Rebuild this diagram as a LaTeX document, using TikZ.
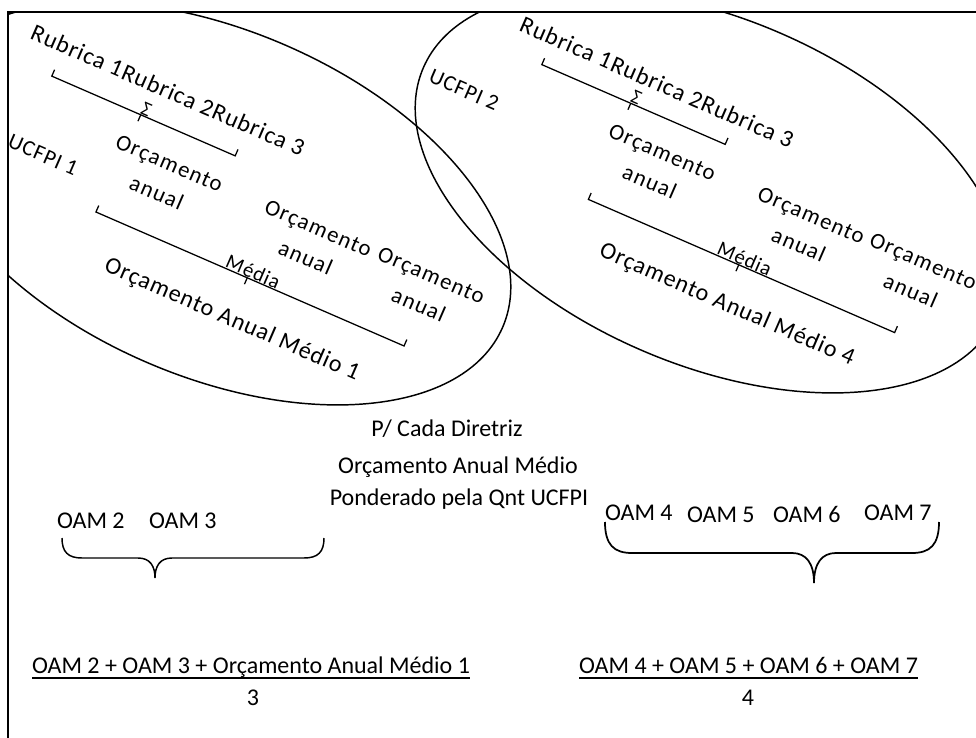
\documentclass[tikz,border=0pt]{standalone}
\usepackage{fontspec}
\setmainfont{Carlito}
\newfontfamily\spacedfont[LetterSpace=4]{Carlito}
\newfontfamily\widefont[LetterSpace=6]{Carlito}
\begin{document}
\begin{tikzpicture}[x=0.75pt,y=-0.75pt,
  every node/.style={inner sep=0pt, outer sep=0pt},
  frameline/.style={line width=1.4pt, black},
  ellipseline/.style={line width=1.1pt, black},
  bracketline/.style={line width=0.95pt, black},
  rottext/.style={font=\spacedfont\fontsize{18}{19}\selectfont, rotate=-23.5, align=center},
  pairtext/.style={font=\widefont\fontsize{17}{24}\selectfont, rotate=-23.5, align=center},
  labeltext/.style={font=\spacedfont\fontsize{16.5}{17}\selectfont, rotate=-23.5},
  sigmatext/.style={font=\fontsize{15}{16}\selectfont, rotate=-23.5, anchor=base},
  mediatext/.style={font=\spacedfont\fontsize{15.5}{16}\selectfont, rotate=-23.5, anchor=base},
  flattext/.style={font=\fontsize{18}{20}\selectfont, anchor=base},
]
\useasboundingbox (0,0) rectangle (976,738);
\fill[white] (0,0) rectangle (976,738);

% frame
\coordinate (fbl) at (8,738);
\coordinate (ftl) at (8,12);
\coordinate (ftr) at (976,12);
\draw[frameline] (fbl) -- (ftl) -- (ftr);

% ellipses
\begin{scope}
  \clip (8,12) rectangle (976,738);
  \draw[ellipseline, rotate around={-23.3:(215.5,203.5)}] (215.5,203.5) ellipse [x radius=312.7, y radius=173.1];
  \draw[ellipseline, rotate around={-23.3:(710.5,191.5)}] (710.5,191.5) ellipse [x radius=312.7, y radius=173.1];
\end{scope}

% ---------- group 1 ----------
\node[rottext] (r1) at (168,90) {Rubrica 1Rubrica 2Rubrica 3};
\node[labeltext] (u1) at (43,155) {UCFPI 1};
\node[pairtext] (o1) at (163,178) {Orçamento\\anual};
\node[pairtext] (o2) at (312,243) {Orçamento\\anual};
\node[pairtext] (o3) at (425,290) {Orçamento\\anual};
\node[rottext] (m1) at (232,320) {Orçamento Anual Médio 1};

\begin{scope}[shift={(143.5,116)}, rotate=-23.5]
  \coordinate (b1l) at (-100,-7);
  \coordinate (b1a) at (-100,0);
  \coordinate (b1b) at (100,0);
  \coordinate (b1r) at (100,-7);
  \coordinate (b1t) at (-3,0);
  \coordinate (b1d) at (-3,7);
  \draw[bracketline] (b1l) -- (b1a) -- (b1b) -- (b1r);
  \draw[bracketline] (b1t) -- (b1d);
  \node[sigmatext] (s1) at (0,-1) {Σ};
\end{scope}

\begin{scope}[shift={(250,279)}, rotate=-23.5]
  \coordinate (b2l) at (-168,-7);
  \coordinate (b2a) at (-168,0);
  \coordinate (b2b) at (168,0);
  \coordinate (b2r) at (168,-7);
  \coordinate (b2t) at (-3,0);
  \coordinate (b2d) at (-3,7);
  \draw[bracketline] (b2l) -- (b2a) -- (b2b) -- (b2r);
  \draw[bracketline] (b2t) -- (b2d);
  \node[mediatext] (md1) at (0,-1) {Média};
\end{scope}

% ---------- group 2 ----------
\node[rottext] (r2) at (657,82) {Rubrica 1Rubrica 2Rubrica 3};
\node[labeltext] (u2) at (464,90) {UCFPI 2};
\node[pairtext] (o4) at (656,167) {Orçamento\\anual};
\node[pairtext] (o5) at (805,230) {Orçamento\\anual};
\node[pairtext] (o6) at (917,276) {Orçamento\\anual};
\node[rottext] (m2) at (727,305) {Orçamento Anual Médio 4};

\begin{scope}[shift={(633.5,104.5)}, rotate=-23.5]
  \coordinate (b3l) at (-100,-7);
  \coordinate (b3a) at (-100,0);
  \coordinate (b3b) at (100,0);
  \coordinate (b3r) at (100,-7);
  \coordinate (b3t) at (-3,0);
  \coordinate (b3d) at (-3,7);
  \draw[bracketline] (b3l) -- (b3a) -- (b3b) -- (b3r);
  \draw[bracketline] (b3t) -- (b3d);
  \node[sigmatext] (s2) at (0,-1) {Σ};
\end{scope}

\begin{scope}[shift={(741.5,266)}, rotate=-23.5]
  \coordinate (b4l) at (-167,-7);
  \coordinate (b4a) at (-167,0);
  \coordinate (b4b) at (167,0);
  \coordinate (b4r) at (167,-7);
  \coordinate (b4t) at (-3,0);
  \coordinate (b4d) at (-3,7);
  \draw[bracketline] (b4l) -- (b4a) -- (b4b) -- (b4r);
  \draw[bracketline] (b4t) -- (b4d);
  \node[mediatext] (md2) at (0,-1) {Média};
\end{scope}

% ---------- lower part ----------
\node[flattext] (pcd) at (447,436) {P/ Cada Diretriz};
\node[flattext] (oamt) at (458,473.5) {Orçamento Anual Médio};
\node[flattext] (pond) at (459,505.5) {Ponderado pela Qnt UCFPI};

\node[flattext, anchor=base west] (oam2) at (57,528.5) {OAM 2};
\node[flattext, anchor=base west] (oam3) at (149,528.5) {OAM 3};
\node[flattext, anchor=base west] (oam4) at (605,520.5) {OAM 4};
\node[flattext, anchor=base west] (oam5) at (687,522.5) {OAM 5};
\node[flattext, anchor=base west] (oam6) at (773,522.5) {OAM 6};
\node[flattext, anchor=base west] (oam7) at (864,520.5) {OAM 7};

% braces
\coordinate (lbl) at (62,538);
\coordinate (lbr) at (324,538);
\coordinate (lbt) at (155,578);
\draw[bracketline, line width=1.1pt] (lbl) .. controls (62,552) and (68,558) .. (82,558) -- (138,558)
  .. controls (150,558) and (155,566) .. (lbt)
  .. controls (155,566) and (160,558) .. (172,558) -- (304,558)
  .. controls (318,558) and (324,552) .. (lbr);
\coordinate (rbl) at (605,522);
\coordinate (rbr) at (939,522);
\coordinate (rbt) at (814,583);
\draw[bracketline, line width=1.3pt] (rbl) .. controls (605,545) and (614,553) .. (632,553) -- (792,553)
  .. controls (806,553) and (814,563) .. (rbt)
  .. controls (814,563) and (822,553) .. (836,553) -- (912,553)
  .. controls (930,553) and (939,545) .. (rbr);

% fractions
\node[flattext] (num1) at (251,673.5) {OAM 2 + OAM 3 + Orçamento Anual Médio 1};
\node[flattext] (num2) at (748.5,673.5) {OAM 4 + OAM 5 + OAM 6 + OAM 7};
\coordinate (ul) at (0,678);
\draw[line width=1.2pt] (num1.west |- ul) -- (num1.east |- ul);
\draw[line width=1.2pt] (num2.west |- ul) -- (num2.east |- ul);
\node[flattext] (den1) at (253,705) {3};
\node[flattext] (den2) at (748,705) {4};
\end{tikzpicture}
\end{document}
